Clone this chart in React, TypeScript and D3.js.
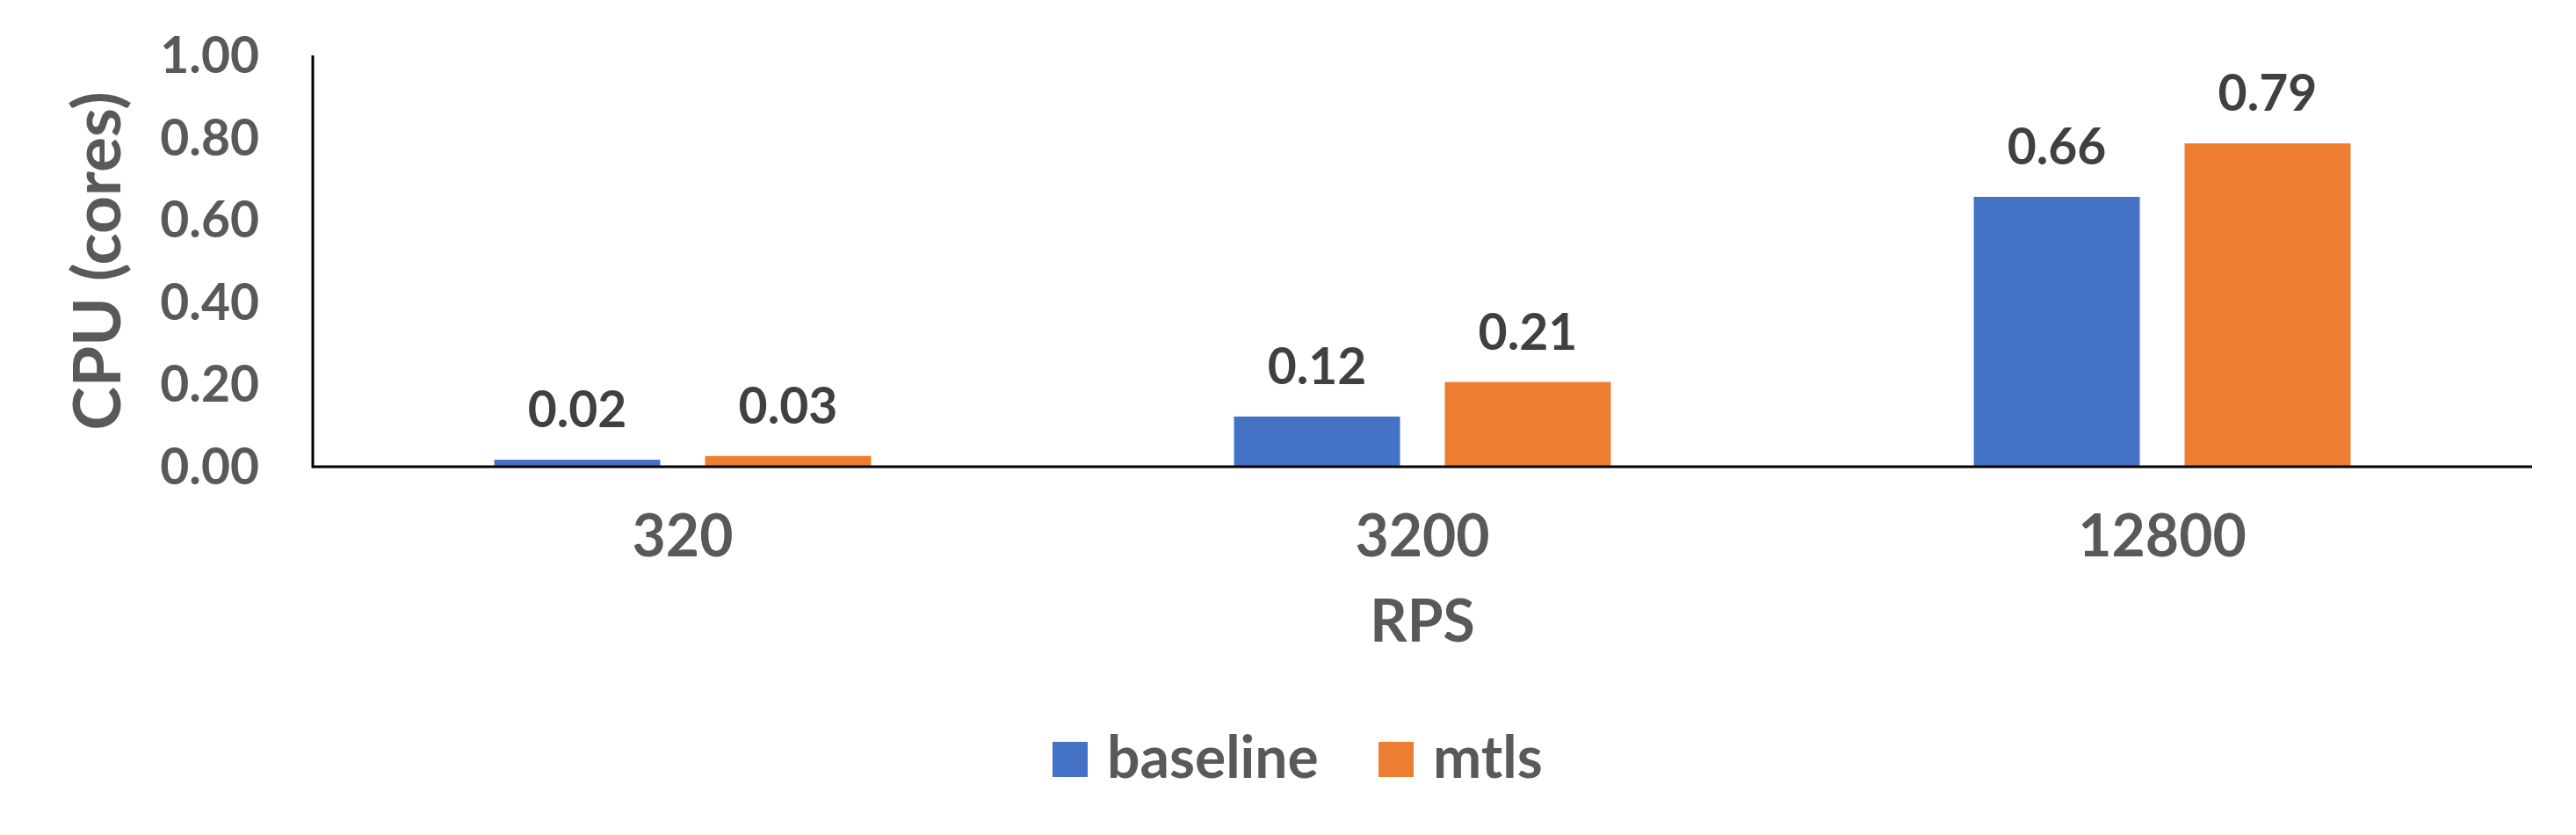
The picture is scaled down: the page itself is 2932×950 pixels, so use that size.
import React from "react";
import * as d3 from "d3";

const categories = ["320", "3200", "12800"];
const seriesNames = ["baseline", "mtls"];
const baseline = [0.017, 0.122, 0.656];
const mtls = [0.026, 0.206, 0.786];
const yTicks = [0, 0.2, 0.4, 0.6, 0.8, 1.0];
const colors = ["#4472C4", "#ED7D31"];

const W = 2932;
const H = 950;
const left = 356;
const right = 2882;
const top = 63;
const bottom = 531;
const FONT = "Lato, 'Open Sans', sans-serif";

export default function App() {
  const x = d3.scaleBand<string>().domain(categories).range([left, right]).padding(0);
  const bw = x.bandwidth();
  const outer = bw * 0.2453;
  const xSub = d3
    .scaleBand<string>()
    .domain(seriesNames)
    .range([outer, bw - outer])
    .paddingInner(0.2125)
    .paddingOuter(0);
  const y = d3.scaleLinear().domain([0, 1]).range([bottom, top]);
  const seriesData = [baseline, mtls];

  return (
    <svg
      width={W}
      height={H}
      style={{ position: "absolute", left: 0, top: 0, background: "#fff" }}
      fontFamily={FONT}
      fontWeight="bold"
    >
      <rect x={0} y={0} width={W} height={H} fill="#fff" />
      {/* y tick labels */}
      {yTicks.map((t) => (
        <text key={t} x={295} y={y(t) + 20} textAnchor="end" fontSize={57} fill="#595959">
          {d3.format(".2f")(t)}
        </text>
      ))}
      {/* bars */}
      {seriesData.map((vals, si) =>
        vals.map((v, ci) => {
          const bx = (x(categories[ci]) as number) + (xSub(seriesNames[si]) as number);
          return (
            <g key={`${si}-${ci}`}>
              <rect x={bx} y={y(v)} width={xSub.bandwidth()} height={bottom - y(v)} fill={colors[si]} />
              <text
                x={bx + xSub.bandwidth() / 2}
                y={y(v) - 37}
                textAnchor="middle"
                fontSize={57}
                fill="#404040"
              >
                {d3.format(".2f")(v)}
              </text>
            </g>
          );
        })
      )}
      {/* axes */}
      <line x1={left} x2={left} y1={top} y2={bottom + 1.5} stroke="#000" strokeWidth={3} />
      <line x1={left} x2={right} y1={bottom} y2={bottom} stroke="#000" strokeWidth={3} />
      {/* category labels */}
      {categories.map((c) => (
        <text
          key={c}
          x={(x(c) as number) + bw / 2}
          y={633}
          textAnchor="middle"
          fontSize={66}
          fill="#595959"
        >
          {c}
        </text>
      ))}
      {/* axis titles */}
      <text x={(left + right) / 2} y={730} textAnchor="middle" fontSize={66} fill="#595959">
        RPS
      </text>
      <text
        transform={`translate(137, ${(top + bottom) / 2}) rotate(-90)`}
        textAnchor="middle"
        fontSize={75}
        fill="#595959"
      >
        CPU (cores)
      </text>
      {/* legend */}
      {seriesNames.map((s, i) => {
        const lx = [1198, 1569][i];
        return (
          <g key={s}>
            <rect x={lx} y={844} width={40} height={40} fill={colors[i]} />
            <text x={lx + 62} y={885} fontSize={66} fill="#595959">
              {s}
            </text>
          </g>
        );
      })}
    </svg>
  );
}
